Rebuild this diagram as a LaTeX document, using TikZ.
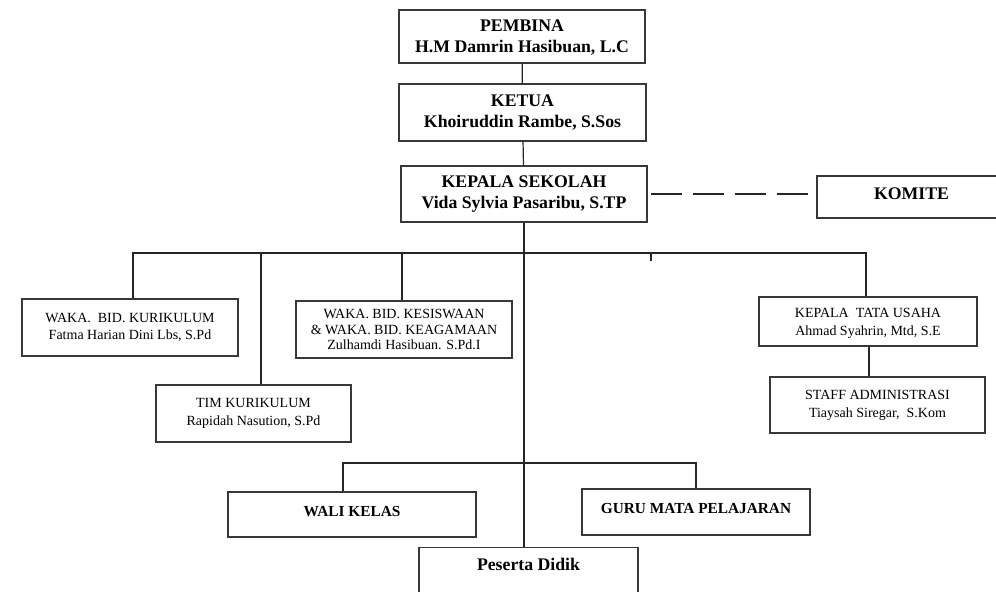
\documentclass[tikz,border=0pt]{standalone}
\usepackage{fontspec}
\setmainfont{Liberation Serif}
\usetikzlibrary{calc}

\tikzset{
    unitbox/.style={draw=black!78, line width=1.1pt, inner sep=2pt, align=center},
    bigbold/.style={unitbox, font=\fontsize{13.3}{15.8}\selectfont\bfseries},
    midbold/.style={unitbox, font=\fontsize{11.5}{13.5}\selectfont\bfseries},
    plain/.style={unitbox, font=\fontsize{10.5}{12.2}\selectfont},
    link/.style={draw=black!85, line width=0.9pt}
}

\begin{document}
\begin{tikzpicture}[x=0.75pt, y=-0.75pt]
    \useasboundingbox (0,0) rectangle (996,592);

    \node [bigbold, minimum width=184.5pt, minimum height=39.75pt, text depth=0pt] (pembina) at (522,36.5) {PEMBINA\\H.M Damrin Hasibuan, L.C};
    \node [bigbold, minimum width=185.25pt, minimum height=42.75pt] (ketua) at (522.5,112.5) {KETUA\\Khoiruddin Rambe, S.Sos};
    \node [bigbold, minimum width=184.5pt, minimum height=42pt] (kepala) at (524,194) {KEPALA SEKOLAH\\Vida Sylvia Pasaribu, S.TP};
    \node [bigbold, minimum width=144.75pt, minimum height=31.5pt, text depth=5pt] (komite) at (913.5,197) {\hspace*{-3pt}KOMITE};

    \node [plain, minimum width=162pt, minimum height=42.75pt] (wakakur) at (130,327.5) {WAKA.\ \ BID. KURIKULUM\\Fatma Harian Dini Lbs, S.Pd};
    \node [plain, minimum width=146.25pt, minimum height=42.75pt, text depth=3pt] (tim) at (253.5,413.5) {TIM KURIKULUM\\[1.2pt]Rapidah Nasution, S.Pd};
    \node [plain, minimum width=162pt, minimum height=42.75pt, font=\fontsize{10.5}{11.8}\selectfont, text depth=0pt] (wakasis) at (404,329.5) {WAKA. BID. KESISWAAN\\\& WAKA. BID. KEAGAMAAN\\Zulhamdi Hasibuan. S.Pd.I};
    \node [plain, minimum width=163.5pt, minimum height=36.75pt, text depth=0pt] (ktu) at (868,321.5) {KEPALA\ \ TATA USAHA\\[1.2pt]Ahmad Syahrin, Mtd, S.E};
    \node [plain, minimum width=161.25pt, minimum height=42pt] (staff) at (877.5,405) {STAFF ADMINISTRASI\\[1.2pt]Tiaysah Siregar,\ \ S.Kom};

    \node [midbold, minimum width=186pt, minimum height=33.75pt, text depth=5pt] (wali) at (352,514.5) {WALI KELAS};
    \node [midbold, minimum width=171pt, minimum height=34.5pt, text depth=5.5pt] (guru) at (696,512) {GURU MATA PELAJARAN};
    \node [bigbold, minimum width=164.25pt, inner ysep=7.5pt, text depth=45pt, anchor=north] (peserta) at (528.5,547) {Peserta Didik};

    \coordinate (busL) at (133,253);
    \coordinate (busR) at (866,253);
    \coordinate (busTim) at (261,253);
    \coordinate (busSis) at (402,253);
    \coordinate (tickTop) at (651,253);
    \coordinate (tickEnd) at (651,261);
    \coordinate (subL) at (343,463);
    \coordinate (subR) at (696,463);

    \draw [link] (pembina) -- (ketua);
    \draw [link] (ketua) -- (kepala);
    \draw [link] (kepala.south) -- (kepala.south |- peserta.north);
    \draw [link, dash pattern=on 23.25pt off 8.25pt] ([xshift=2.25pt]kepala.east) -- ([xshift=-6pt]kepala.east -| komite.west);

    \draw [link] (busL |- wakakur.north) -- (busL) -- (busR) -- (busR |- ktu.north);
    \draw [link] (busTim) -- (busTim |- tim.north);
    \draw [link] (busSis) -- (busSis |- wakasis.north);
    \draw [link] (tickTop) -- (tickEnd);
    \draw [link] ([xshift=0.75pt]ktu.south) -- ([xshift=0.75pt]ktu.south |- staff.north);

    \draw [link] (subL |- wali.north) -- (subL) -- (subR) -- (subR |- guru.north);
\end{tikzpicture}
\end{document}
